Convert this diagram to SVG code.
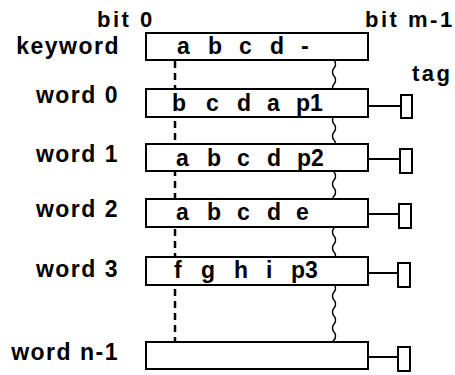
<svg xmlns="http://www.w3.org/2000/svg" width="455" height="375" viewBox="0 0 455 375">
<style>
.lbl{font-family:"Liberation Sans",Arial,sans-serif;font-size:23px;font-weight:bold;letter-spacing:1.5px;fill:#000;text-anchor:end}
.hdr{font-family:"Liberation Sans",Arial,sans-serif;font-size:22px;font-weight:bold;letter-spacing:2.5px;fill:#000}
.cell{font-family:"Liberation Sans",Arial,sans-serif;font-size:23px;font-weight:bold;fill:#000}
.box{fill:#fff;stroke:#000;stroke-width:2}
.tagbox{fill:#fff;stroke:#000;stroke-width:2}
.tagline{stroke:#000;stroke-width:2;fill:none}
.dash{stroke:#000;stroke-width:2.5;stroke-dasharray:7 5;fill:none}
.wave{stroke:#000;stroke-width:1.5;fill:none}
</style>
<rect width="455" height="375" fill="#fff"/>
<g id="connectors">
<line class="dash" x1="175" y1="61" x2="175" y2="342"/>
<path class="wave" d="M334,60 c2,2 2,6 0,8 s-2,6 0,8 s2,6 0,8 s-2,6 0,8 s2,6 0,8 s-2,6 0,8 s2,6 0,8 s-2,6 0,8 s2,6 0,8 s-2,6 0,8 s2,6 0,8 s-2,6 0,8 s2,6 0,8 s-2,6 0,8 s2,6 0,8 s-2,6 0,8 s2,6 0,8 s-2,6 0,8 s2,6 0,8 s-2,6 0,8 s2,6 0,8 s-2,6 0,8 s2,6 0,8 s-2,6 0,8 s2,6 0,8 s-2,6 0,8 s2,6 0,8 s-2,6 0,8 s2,6 0,8 s-2,6 0,8 s2,6 0,8 s-2,6 0,8 s2,6 0,8 s-2,6 0,8 s2,6 0,8 s-2,2 -2,2"/>
</g>
<g id="headers">
<text class="hdr" x="97" y="27" letter-spacing="3">bit 0</text>
<text class="hdr" x="365" y="27" letter-spacing="2.2">bit m-1</text>
<text class="hdr" x="412" y="81" letter-spacing="1">tag</text>
</g>
<g id="keyword">
<text class="lbl" x="120" y="54">keyword</text>
<rect class="box" x="146" y="33" width="222" height="27"/>
<text class="cell" y="54"><tspan x="177">a</tspan> <tspan x="208">b</tspan> <tspan x="239">c</tspan> <tspan x="270">d</tspan> <tspan x="301">-</tspan></text>
</g>
<g id="word0">
<text class="lbl" x="119" y="103">word 0</text>
<rect class="box" x="146" y="89" width="222" height="28"/>
<text class="cell" y="111"><tspan x="172">b</tspan> <tspan x="206">c</tspan> <tspan x="237">d</tspan> <tspan x="267">a</tspan> <tspan x="296">p1</tspan></text>
<line class="tagline" x1="368" y1="106" x2="401" y2="106"/>
<rect class="tagbox" x="401" y="95" width="11" height="23"/>
</g>
<g id="word1">
<text class="lbl" x="119" y="162">word 1</text>
<rect class="box" x="146" y="144" width="222" height="27"/>
<text class="cell" y="166"><tspan x="176">a</tspan> <tspan x="207">b</tspan> <tspan x="237">c</tspan> <tspan x="267">d</tspan> <tspan x="297">p2</tspan></text>
<line class="tagline" x1="368" y1="159" x2="400" y2="159"/>
<rect class="tagbox" x="400" y="149" width="12" height="24"/>
</g>
<g id="word2">
<text class="lbl" x="119" y="217">word 2</text>
<rect class="box" x="146" y="199" width="222" height="28"/>
<text class="cell" y="220"><tspan x="176">a</tspan> <tspan x="207">b</tspan> <tspan x="237">c</tspan> <tspan x="267">d</tspan> <tspan x="296">e</tspan></text>
<line class="tagline" x1="368" y1="214" x2="399" y2="214"/>
<rect class="tagbox" x="399" y="204" width="12" height="24"/>
</g>
<g id="word3">
<text class="lbl" x="119" y="277">word 3</text>
<rect class="box" x="146" y="257" width="222" height="28"/>
<text class="cell" y="278"><tspan x="174">f</tspan> <tspan x="201">g</tspan> <tspan x="234">h</tspan> <tspan x="266">i</tspan> <tspan x="291">p3</tspan></text>
<line class="tagline" x1="368" y1="273" x2="398" y2="273"/>
<rect class="tagbox" x="398" y="263" width="12" height="24"/>
</g>
<g id="wordn-1">
<text class="lbl" x="119" y="360">word n-1</text>
<rect class="box" x="146" y="342" width="222" height="27"/>
<line class="tagline" x1="368" y1="357" x2="398" y2="357"/>
<rect class="tagbox" x="398" y="347" width="12" height="24"/>
</g>
</svg>
